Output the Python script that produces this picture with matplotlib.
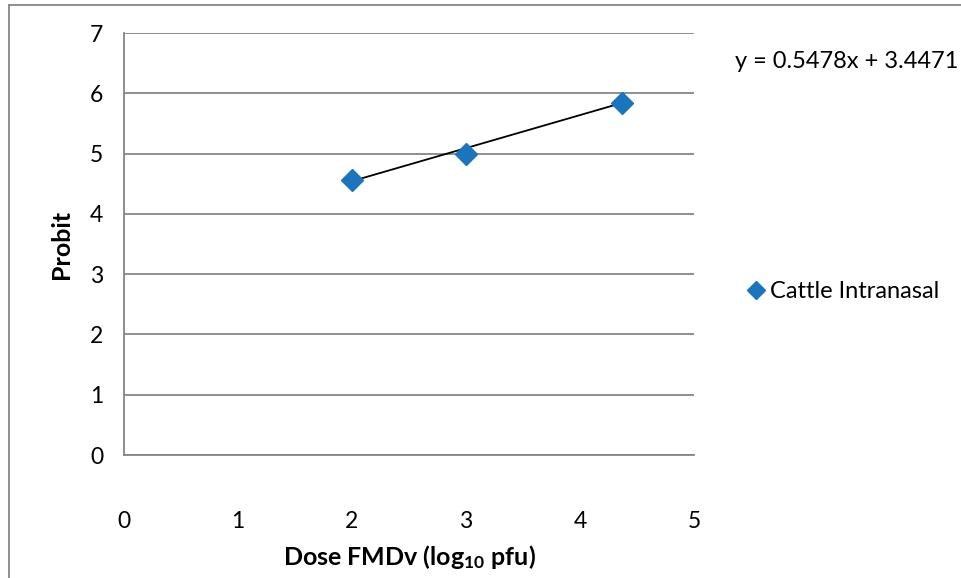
import numpy as np
import matplotlib
matplotlib.use("Agg")
import matplotlib.pyplot as plt
from matplotlib.lines import Line2D

# data
dose = [2.0, 3.0, 4.37]
probit = [4.56, 5.0, 5.84]
slope, intercept = 0.5478, 3.4471
series_label = "Cattle Intranasal"
x_ticks = [0, 1, 2, 3, 4, 5]
y_ticks = [0, 1, 2, 3, 4, 5, 6, 7]

plt.rcParams["font.family"] = ["Lato", "DejaVu Sans"]
plt.rcParams["mathtext.fontset"] = "custom"
plt.rcParams["mathtext.rm"] = "Lato:bold"
plt.rcParams["mathtext.it"] = "Lato:bold"
plt.rcParams["mathtext.bf"] = "Lato:bold"
MARKER = "#1a75bc"
GRID = "#868686"

fig = plt.figure(figsize=(9.61, 5.78), dpi=100)
ax = fig.add_axes([124 / 961, 1 - 455 / 578, 570 / 961, 422 / 578])

# trendline over the data range
xs = np.array([min(dose), max(dose)])
ax.plot(xs, slope * xs + intercept, color="black", lw=1.3, zorder=3)
ax.plot(dose, probit, linestyle="none", marker="D", ms=11.5,
        color=MARKER, zorder=4, label=series_label)

ax.set_xlim(0, 5)
ax.set_ylim(0, 7)
ax.set_xticks(x_ticks)
ax.set_yticks(y_ticks)
ax.grid(axis="y", color=GRID, lw=1.3)
ax.set_axisbelow(True)
for side in ["top", "right"]:
    ax.spines[side].set_visible(False)
for side in ["left", "bottom"]:
    ax.spines[side].set_color(GRID)
    ax.spines[side].set_linewidth(1.3)
ax.tick_params(length=0, labelsize=16.5)
ax.tick_params(axis="x", pad=40)
ax.tick_params(axis="y", pad=15)

ax.set_xlabel("Dose FMDv (log$_{10}$ pfu)", fontsize=18, fontweight="bold", labelpad=8)
ax.set_ylabel("Probit", fontsize=18, fontweight="bold", labelpad=12)

fig.text(735 / 961, 1 - 62 / 578, f"y = {slope}x + {intercept}",
         fontsize=17, va="center", ha="left")

fig.legend(loc="center left", bbox_to_anchor=(728 / 961, 1 - 292 / 578),
           frameon=False, fontsize=17, handlelength=0.6, handletextpad=0.3,
           markerscale=0.8)

# outer chart border (cropped: only left and top edges visible)
fig.add_artist(Line2D([8.5 / 961, 8.5 / 961], [0, 1 - 4.5 / 578],
                      transform=fig.transFigure, color=GRID, lw=1.3))
fig.add_artist(Line2D([8.5 / 961, 1], [1 - 4.5 / 578, 1 - 4.5 / 578],
                      transform=fig.transFigure, color=GRID, lw=1.3))

fig.savefig("out.png", dpi=100)
